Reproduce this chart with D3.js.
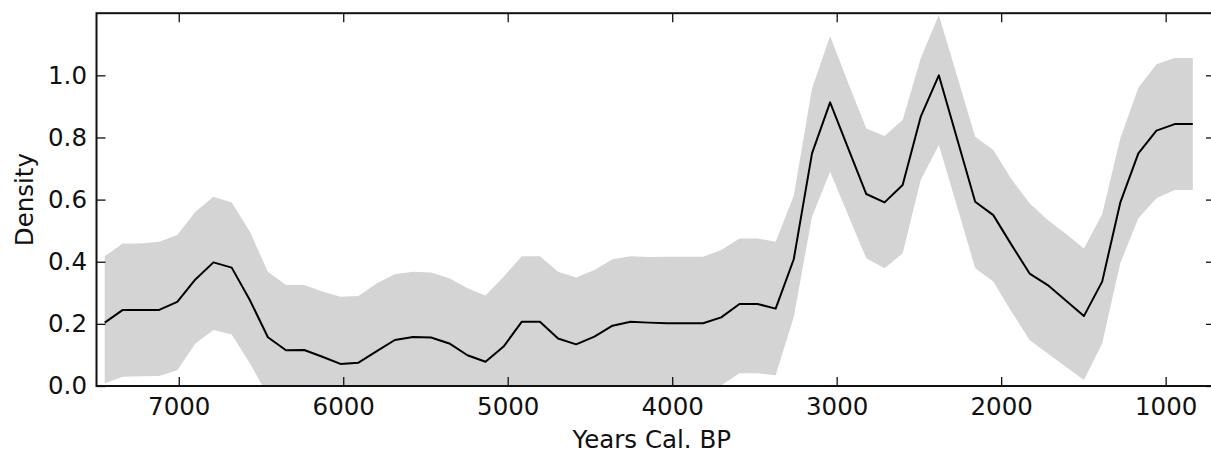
<!DOCTYPE html>
<html>
<head>
<meta charset="utf-8">
<script src="https://cdn.jsdelivr.net/npm/d3@7"></script>
<style>
  html, body { margin: 0; padding: 0; background: #fff; }
  svg { display: block; }
  text { font-family: "DejaVu Sans", sans-serif; fill: #111; }
</style>
</head>
<body>
<svg id="chart" width="1211" height="458"></svg>
<script>
// Summed probability density, years cal. BP, with its confidence envelope
const years = [7450, 7340, 7230, 7119, 7009, 6899, 6789, 6678, 6568, 6458,
               6348, 6237, 6127, 6017, 5907, 5796, 5686, 5576, 5466, 5355,
               5245, 5135, 5025, 4914, 4804, 4694, 4584, 4473, 4363, 4253,
               4143, 4032, 3922, 3812, 3702, 3591, 3481, 3371, 3261, 3150,
               3040, 2930, 2820, 2709, 2599, 2489, 2379, 2268, 2158, 2048,
               1938, 1827, 1717, 1607, 1497, 1386, 1276, 1166, 1056, 945, 835];

const density = [0.204, 0.245, 0.245, 0.245, 0.271, 0.343, 0.398, 0.381, 0.277, 0.157,
                 0.115, 0.116, 0.094, 0.071, 0.075, 0.112, 0.148, 0.158, 0.156, 0.137,
                 0.099, 0.078, 0.127, 0.207, 0.207, 0.153, 0.134, 0.159, 0.194, 0.207,
                 0.204, 0.202, 0.202, 0.202, 0.221, 0.264, 0.264, 0.249, 0.408, 0.749,
                 0.913, 0.765, 0.618, 0.591, 0.647, 0.867, 1.000, 0.796, 0.593, 0.550,
                 0.455, 0.362, 0.325, 0.275, 0.225, 0.336, 0.590, 0.749, 0.822, 0.843, 0.843];

const upper = [0.418, 0.459, 0.459, 0.464, 0.486, 0.561, 0.609, 0.591, 0.497, 0.368,
               0.325, 0.325, 0.304, 0.287, 0.290, 0.331, 0.360, 0.368, 0.365, 0.347,
               0.315, 0.291, 0.352, 0.418, 0.418, 0.368, 0.349, 0.373, 0.408, 0.418,
               0.415, 0.416, 0.416, 0.416, 0.438, 0.475, 0.475, 0.464, 0.612, 0.958,
               1.127, 0.975, 0.829, 0.805, 0.856, 1.055, 1.194, 0.998, 0.802, 0.760,
               0.666, 0.588, 0.534, 0.490, 0.443, 0.553, 0.797, 0.960, 1.036, 1.056, 1.056];

const lower = [0.009, 0.030, 0.031, 0.032, 0.051, 0.137, 0.180, 0.166, 0.073, -0.030,
               -0.095, -0.093, -0.116, -0.145, -0.140, -0.107, -0.064, -0.052, -0.053, -0.073,
               -0.121, -0.135, -0.098, -0.004, -0.004, -0.062, -0.081, -0.055, -0.020, -0.004,
               -0.007, -0.012, -0.012, -0.012, 0.002, 0.041, 0.041, 0.035, 0.222, 0.545,
               0.690, 0.550, 0.411, 0.379, 0.427, 0.663, 0.776, 0.578, 0.379, 0.336,
               0.240, 0.148, 0.105, 0.062, 0.019, 0.137, 0.395, 0.540, 0.604, 0.631, 0.631];

const xTicks = [7000, 6000, 5000, 4000, 3000, 2000, 1000];
const yTicks = [0.0, 0.2, 0.4, 0.6, 0.8, 1.0];

const svg = d3.select("#chart");
const plotLeft = 96.5, plotRight = 1215, plotTop = 13.2, plotBottom = 386;

const x = d3.scaleLinear().domain([7500, 700]).range([plotLeft, plotRight]);
const y = d3.scaleLinear().domain([0, 1.2]).range([plotBottom, plotTop]);

const pts = years.map((yr, i) => ({ yr, m: density[i], lo: lower[i], hi: upper[i] }));

svg.append("defs").append("clipPath").attr("id", "plot-clip")
  .append("rect").attr("x", plotLeft).attr("y", plotTop)
  .attr("width", plotRight - plotLeft).attr("height", plotBottom - plotTop);

const plot = svg.append("g").attr("clip-path", "url(#plot-clip)");

// confidence envelope
plot.append("path")
  .datum(pts)
  .attr("fill", "#d4d4d4")
  .attr("stroke", "none")
  .attr("d", d3.area().x(d => x(d.yr)).y0(d => y(d.lo)).y1(d => y(d.hi)));

// density curve
plot.append("path")
  .datum(pts)
  .attr("fill", "none")
  .attr("stroke", "#000")
  .attr("stroke-width", 2)
  .attr("stroke-linejoin", "round")
  .attr("d", d3.line().x(d => x(d.yr)).y(d => y(d.m)));

// axes: ticks pointing inward on all four sides
const tickLen = 9;
const fontSize = 24.5;

const xBottom = d3.axisBottom(x).tickValues(xTicks).tickSizeInner(-tickLen).tickSizeOuter(0)
  .tickPadding(12).tickFormat(d3.format("d"));
const gxb = svg.append("g").attr("transform", `translate(0,${plotBottom})`).call(xBottom);

const xTop = d3.axisTop(x).tickValues(xTicks).tickSizeInner(-tickLen).tickSizeOuter(0).tickFormat("");
const gxt = svg.append("g").attr("transform", `translate(0,${plotTop})`).call(xTop);

const yLeft = d3.axisLeft(y).tickValues(yTicks).tickSizeInner(-tickLen).tickSizeOuter(0)
  .tickPadding(9.5).tickFormat(d3.format(".1f"));
const gyl = svg.append("g").attr("transform", `translate(${plotLeft},0)`).call(yLeft);

const yRight = d3.axisRight(y).tickValues(yTicks).tickSizeInner(-tickLen).tickSizeOuter(0).tickFormat("");
const gyr = svg.append("g").attr("transform", `translate(${plotRight},0)`).call(yRight);

[gxb, gxt, gyl, gyr].forEach(g => {
  g.select(".domain").remove();
  g.selectAll(".tick line").attr("stroke", "#111").attr("stroke-width", 1.3);
  g.selectAll(".tick text")
    .attr("font-family", "DejaVu Sans, sans-serif")
    .attr("font-size", fontSize)
    .attr("fill", "#111");
});

// frame
svg.append("rect")
  .attr("x", plotLeft).attr("y", plotTop)
  .attr("width", plotRight - plotLeft).attr("height", plotBottom - plotTop)
  .attr("fill", "none").attr("stroke", "#111").attr("stroke-width", 2);

// axis titles
svg.append("text")
  .attr("x", (plotLeft + plotRight) / 2 - 4).attr("y", 448)
  .attr("text-anchor", "middle")
  .attr("font-size", fontSize)
  .text("Years Cal. BP");

svg.append("text")
  .attr("transform", `translate(33,${(plotTop + plotBottom) / 2}) rotate(-90)`)
  .attr("text-anchor", "middle")
  .attr("font-size", fontSize)
  .text("Density");
</script>
</body>
</html>
